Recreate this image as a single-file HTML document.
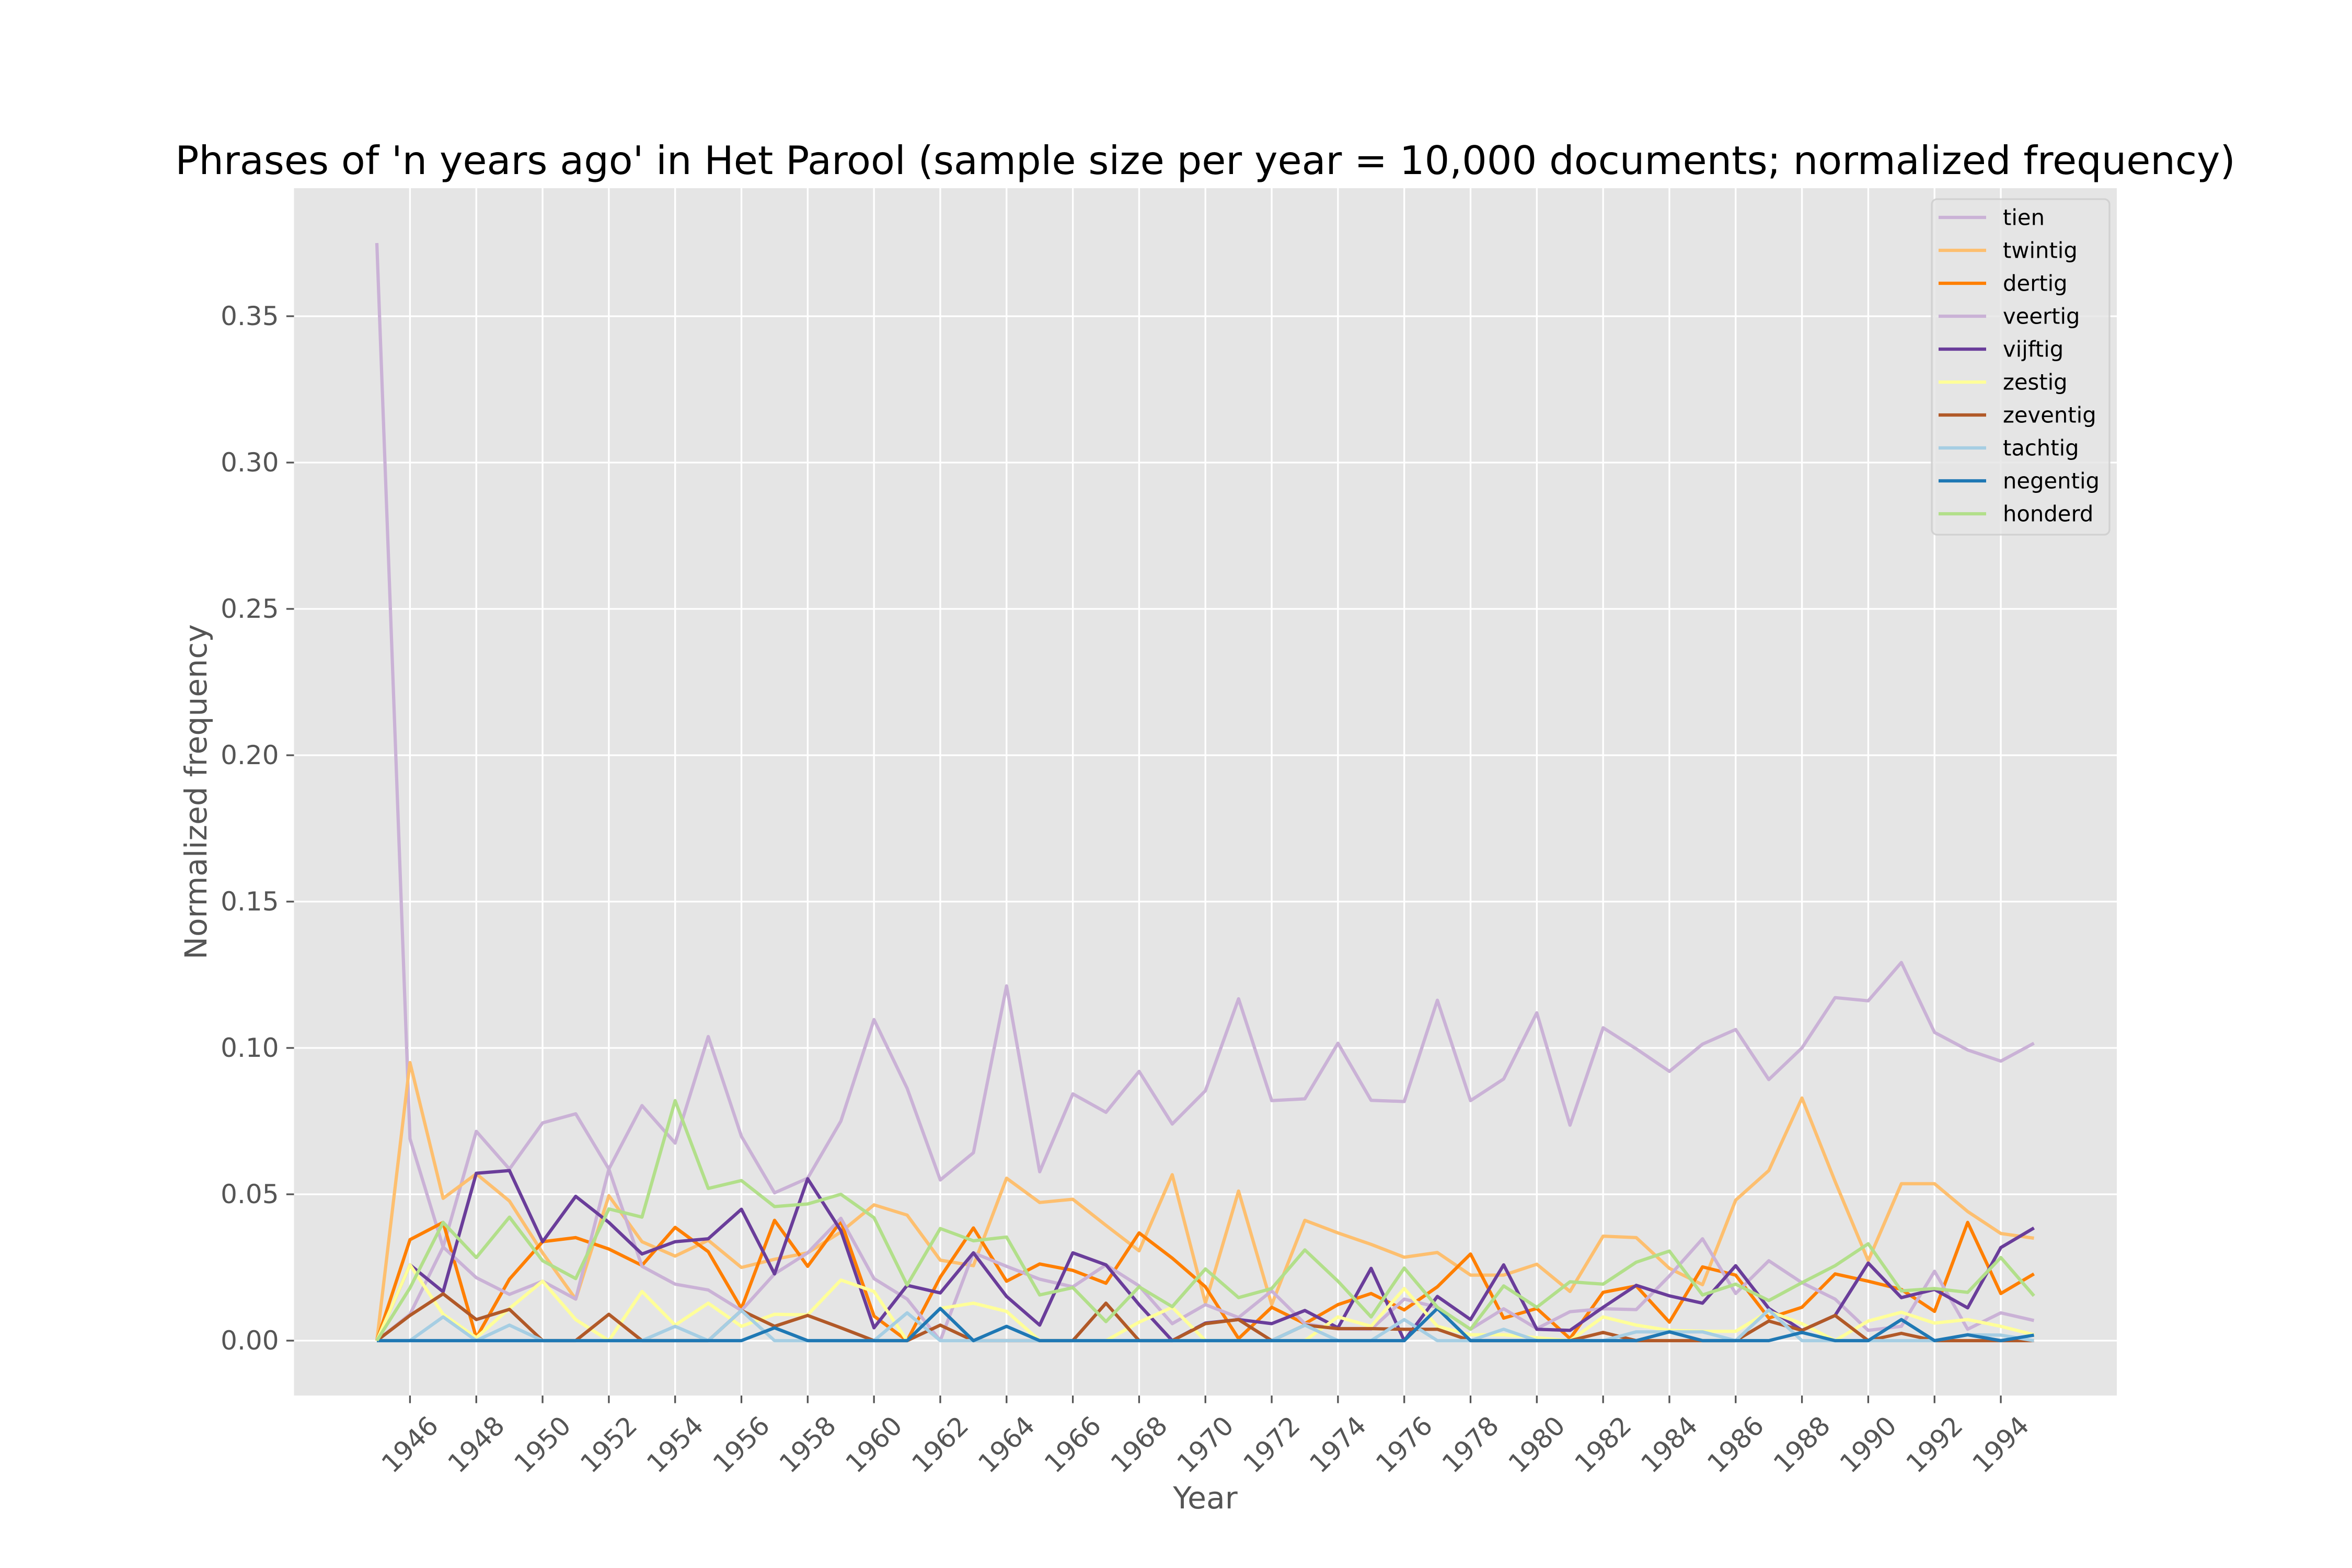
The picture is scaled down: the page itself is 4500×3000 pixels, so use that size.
<!DOCTYPE html>
<html><head><meta charset="utf-8"><style>
html,body{margin:0;padding:0;background:#fff}
svg{display:block;font-family:"DejaVu Sans","Liberation Sans",sans-serif}
</style></head><body>
<svg id="chart" width="4500" height="3000" viewBox="0 0 4500 3000" xmlns="http://www.w3.org/2000/svg">
<rect x="0" y="0" width="4500" height="3000" fill="#ffffff"/>
<rect x="562.5" y="360" width="3487.5" height="2310" fill="#E5E5E5"/>
<g id="grid"></g>
<g id="series"></g>
<g id="axes"></g>
<text x="2306" y="333" font-size="75" text-anchor="middle" fill="#000">Phrases of 'n years ago' in Het Parool (sample size per year = 10,000 documents; normalized frequency)</text>
<text x="2306" y="2886" font-size="58.3" text-anchor="middle" fill="#555555">Year</text>
<text transform="translate(395,1515) rotate(-90)" font-size="58.3" text-anchor="middle" fill="#555555">Normalized frequency</text>
<g id="legend"></g>
</svg>
<script>
const years = [];
for (let y = 1945; y <= 1995; y++) years.push(y);
const seriesNames = ["tien","twintig","dertig","veertig","vijftig","zestig","zeventig","tachtig","negentig","honderd"];
const seriesColors = ["#cab2d6","#fdbf6f","#ff7f00","#cab2d6","#6a3d9a","#ffff99","#b15928","#a6cee3","#1f78b4","#b2df8a"];
const xTicks = [1946,1948,1950,1952,1954,1956,1958,1960,1962,1964,1966,1968,1970,1972,1974,1976,1978,1980,1982,1984,1986,1988,1990,1992,1994];
const yTicks = [0,0.05,0.10,0.15,0.20,0.25,0.30,0.35];
const yTickLabels = ["0.00","0.05","0.10","0.15","0.20","0.25","0.30","0.35"];

const tien = [0.375,0.069,0.032,0.0715,0.0586,0.0744,0.0775,0.0586,0.0803,0.0675,0.1039,0.0698,0.0505,0.0555,0.075,0.1097,0.0862,0.0549,0.0642,0.1212,0.0577,0.0843,0.078,0.092,0.074,0.0854,0.1168,0.082,0.0826,0.1016,0.0821,0.0817,0.1163,0.082,0.0894,0.112,0.0736,0.1069,0.0997,0.092,0.1013,0.1063,0.0892,0.100,0.1172,0.1161,0.1292,0.1053,0.0993,0.0955,0.1016];
const twintig = [0,0.095,0.0486,0.057,0.0477,0.030,0.0142,0.0495,0.0338,0.0289,0.0343,0.025,0.0278,0.030,0.0371,0.0464,0.0429,0.0275,0.0256,0.0555,0.0472,0.0483,0.0394,0.0307,0.0567,0.0128,0.0511,0.0123,0.0411,0.0368,0.0329,0.0285,0.0301,0.0224,0.0224,0.0261,0.0168,0.0357,0.0352,0.0247,0.0191,0.048,0.0581,0.0829,0.0544,0.0273,0.0536,0.0536,0.0441,0.0366,0.035];
const dertig = [0,0.0345,0.0404,0.001,0.021,0.0338,0.0352,0.0313,0.0257,0.0387,0.0304,0.011,0.0411,0.0254,0.0408,0.0084,0,0.0217,0.0385,0.0203,0.0262,0.024,0.0196,0.0368,0.0282,0.0184,0.0007,0.0114,0.0058,0.0123,0.0161,0.0105,0.0184,0.0296,0.0077,0.011,0.0007,0.0165,0.0187,0.0063,0.0252,0.0224,0.0077,0.0114,0.0228,0.0203,0.0175,0.01,0.0404,0.0161,0.0228];
const veertig = [0,0.009,0.032,0.0215,0.0158,0.0203,0.0142,0.0586,0.0254,0.0193,0.0173,0.0103,0.0228,0.030,0.0418,0.0212,0.0142,0,0.030,0.0254,0.021,0.0184,0.0259,0.0187,0.0058,0.0123,0.0079,0.017,0.0058,0.004,0.0039,0.0142,0.0114,0.0039,0.0109,0.0041,0.0099,0.0109,0.0106,0.0221,0.0348,0.0161,0.0273,0.0198,0.0142,0.0035,0.0049,0.0237,0.0039,0.0095,0.0069];
const vijftig = [0,0.0259,0.0167,0.0572,0.0581,0.0338,0.0493,0.0404,0.0296,0.0338,0.0348,0.0449,0.0228,0.0553,0.0376,0.0044,0.0189,0.0163,0.030,0.0151,0.0053,0.030,0.0259,0.0123,0,0.006,0.0072,0.0058,0.0103,0.0044,0.0247,0,0.0151,0.0072,0.0259,0.0039,0.0035,0.0114,0.0189,0.0153,0.0128,0.0256,0.011,0.0035,0.0086,0.0265,0.0147,0.0175,0.0112,0.0318,0.0385];
const zestig = [0,0.0259,0.009,0.001,0.011,0.0203,0.0072,0,0.0168,0.0053,0.0128,0.0049,0.009,0.0088,0.0207,0.0168,0,0.011,0.0128,0.01,0,0,0,0.0063,0.0114,0,0,0,0,0.0081,0.0049,0.0178,0.0049,0.002,0.002,0.001,0,0.0081,0.0053,0.0035,0.0032,0.0032,0.01,0.0058,0,0.0067,0.0097,0.006,0.0072,0.0049,0.002];
const zeventig = [0,0.0086,0.016,0.0072,0.0107,0,0,0.009,0,0,0,0.0103,0.0049,0.0086,0.0044,0,0,0.0053,0,0,0,0,0.0128,0,0,0.0058,0.0072,0,0.0053,0.0041,0.0041,0.0039,0.0039,0,0,0,0,0.0028,0,0,0,0,0.0067,0.0035,0.0086,0,0.0025,0,0,0,0];
const tachtig = [0,0,0.0081,0,0.0053,0,0,0,0,0.0049,0,0.0103,0,0,0,0,0.0095,0,0,0,0,0,0,0,0,0,0,0,0.0053,0,0,0.0072,0,0,0.0039,0,0,0,0.003,0.003,0.003,0,0.0105,0,0,0,0,0,0.002,0.0019,0];
const negentig = [0,0,0,0,0,0,0,0,0,0,0,0,0.0044,0,0,0,0,0.011,0,0.0049,0,0,0,0,0,0,0,0,0,0,0,0,0.011,0,0,0,0,0,0,0.003,0,0,0,0.0028,0,0,0.0072,0,0.002,0,0.0019];
const honderd = [0,0.018,0.0404,0.0284,0.0422,0.0273,0.0212,0.045,0.0422,0.082,0.052,0.0547,0.0458,0.0467,0.05,0.042,0.019,0.0383,0.0341,0.0354,0.0156,0.0181,0.0065,0.0184,0.0116,0.0245,0.0147,0.0178,0.031,0.0203,0.0081,0.0248,0.0114,0.0039,0.0187,0.0114,0.0201,0.0193,0.0268,0.0306,0.0156,0.0193,0.0137,0.0198,0.0256,0.0331,0.017,0.0178,0.0165,0.0284,0.0153];

const seriesValues = [tien,twintig,dertig,veertig,vijftig,zestig,zeventig,tachtig,negentig,honderd];

const NS = "http://www.w3.org/2000/svg";
const L = 562.5, R = 4050, T = 360, B = 2670;
const allVals = seriesValues.flat();
const yMax = Math.max(...allVals), yMin = Math.min(...allVals);
const yPad = (yMax - yMin) * 0.05;
const y0 = yMin - yPad, y1 = yMax + yPad;
const xPad = (years[years.length-1] - years[0]) * 0.05;
const x0 = years[0] - xPad, x1 = years[years.length-1] + xPad;
function xs(v){ return L + (v - x0) / (x1 - x0) * (R - L); }
function ys(v){ return B - (v - y0) / (y1 - y0) * (B - T); }
function mk(tag, attrs, parent){
  const e = document.createElementNS(NS, tag);
  for (const k in attrs) e.setAttribute(k, attrs[k]);
  parent.appendChild(e);
  return e;
}
const grid = document.getElementById('grid');
const axes = document.getElementById('axes');
xTicks.forEach(t => {
  const x = xs(t);
  const g = mk('line', {x1:x, x2:x, y1:T, y2:B, stroke:'#ffffff', 'stroke-width':3.3}, grid);
  
  
  const tk = mk('line', {x1:x, x2:x, y1:B, y2:B+14.6, stroke:'#555555', 'stroke-width':3.3}, axes);
  
  
  const lb = mk('text', {transform:`translate(${x},2764) rotate(-45)`, 'text-anchor':'middle', 'dominant-baseline':'central', 'font-size':50, fill:'#555555'}, axes);
  
  
  lb.textContent = String(t);
});
yTicks.forEach((t, i) => {
  const y = ys(t);
  const g = mk('line', {x1:L, x2:R, y1:y, y2:y, stroke:'#ffffff', 'stroke-width':3.3}, grid);
  
  
  const tk = mk('line', {x1:L-14.6, x2:L, y1:y, y2:y, stroke:'#555555', 'stroke-width':3.3}, axes);
  
  
  const lb = mk('text', {x:L-29, y:y, 'text-anchor':'end', 'dominant-baseline':'central', 'font-size':50, fill:'#555555'}, axes);
  
  
  lb.textContent = yTickLabels[i];
});
const sg = document.getElementById('series');
seriesValues.forEach((vals, si) => {
  const d = vals.map((v, i) => (i ? 'L' : 'M') + xs(years[i]).toFixed(1) + ' ' + ys(v).toFixed(1)).join(' ');
  const p = mk('path', {d:d, fill:'none', stroke:seriesColors[si], 'stroke-width':6.25, 'stroke-linejoin':'round', 'stroke-linecap':'butt'}, sg);
  
  
});
const lg = document.getElementById('legend');
const box = mk('rect', {x:3696, y:381, width:340, height:642, rx:10, fill:'#E5E5E5', 'fill-opacity':0.8, stroke:'#cccccc', 'stroke-opacity':0.8, 'stroke-width':3.3}, lg);


seriesNames.forEach((n, i) => {
  const cy = 416 + i * 63;
  const g = mk('g', {}, lg);
  
  
  mk('line', {x1:3709, x2:3800, y1:cy, y2:cy, stroke:seriesColors[i], 'stroke-width':6.25}, g);
  const t = mk('text', {x:3832, y:cy, 'dominant-baseline':'central', 'font-size':41.7, fill:'#000'}, g);
  t.textContent = n;
});
</script>
</body></html>
